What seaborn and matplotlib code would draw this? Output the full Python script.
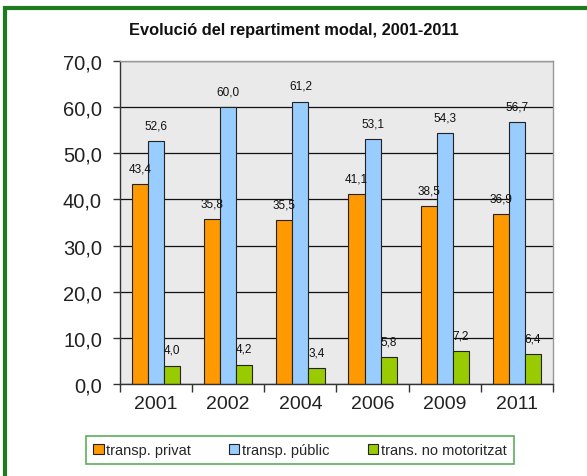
import matplotlib
matplotlib.use("Agg")
import matplotlib.pyplot as plt
import seaborn as sns
import pandas as pd
from matplotlib.patches import Rectangle, Patch

years = ["2001", "2002", "2004", "2006", "2009", "2011"]
series = ["transp. privat", "transp. públic", "trans. no motoritzat"]
privat = [43.4, 35.8, 35.5, 41.1, 38.5, 36.9]
public = [52.6, 60.0, 61.2, 53.1, 54.3, 56.7]
nomot = [4.0, 4.2, 3.4, 5.8, 7.2, 6.4]
colors = ["#FF9900", "#99CCFF", "#99CC00"]

rows = []
for s, vals in zip(series, [privat, public, nomot]):
    for y, v in zip(years, vals):
        rows.append({"any": y, "serie": s, "valor": v})
df = pd.DataFrame(rows)

sns.set_theme(style="white")
plt.rcParams['font.family'] = ['Liberation Sans', 'DejaVu Sans']

fig = plt.figure(figsize=(5.87, 4.77), dpi=100)
ax = fig.add_axes([120/587, 1-385/477, 433/587, 323/477])
sns.barplot(data=df, x="any", y="valor", hue="serie", order=years, hue_order=series,
            palette=colors, width=0.67, edgecolor="#222222", linewidth=0.8,
            saturation=1, ax=ax, legend=False, errorbar=None)

ax.set_facecolor("#EAEAEA")
ax.set_ylim(0, 70)
ax.set_xlim(-0.5, 5.5)
ax.set_yticks(range(0, 71, 10))
ax.set_yticklabels([f"{v},0" for v in range(0, 71, 10)], fontsize=14.5, color="#222222")
ax.yaxis.grid(True, color="#111111", linewidth=0.9)
ax.set_axisbelow(True)
ax.set_xlabel("")
ax.set_ylabel("")
ax.tick_params(axis="x", which="major", length=0, labelsize=14, pad=8, labelcolor="#222222")
ax.set_xticks([i - 0.5 for i in range(7)], minor=True)
ax.tick_params(axis="x", which="minor", length=6, width=1, color="#333333", direction="out", bottom=True)
ax.tick_params(axis="y", length=5, width=1, color="#333333", direction="out", left=True, pad=8)
for side in ["top", "right"]:
    ax.spines[side].set_color("#999999")
    ax.spines[side].set_linewidth(1)
for side in ["left", "bottom"]:
    ax.spines[side].set_color("#333333")
    ax.spines[side].set_linewidth(1)

for cont in ax.containers:
    labels = [f"{b.get_height():.1f}".replace(".", ",") for b in cont]
    ax.bar_label(cont, labels=labels, padding=7, fontsize=8.5, color="#111111")

fig.text(294/587, 1-30/477, "Evolució del repartiment modal, 2001-2011", ha="center", va="center",
         fontsize=11.8, fontweight="bold", color="#111111")

handles = [Patch(facecolor=c, edgecolor="#222222", linewidth=0.8) for c in colors]
leg = fig.legend(handles, series, loc="center", bbox_to_anchor=(300/587, 1-451/477), ncol=3,
                 fontsize=10.5, frameon=True, fancybox=False, handlelength=0.7, handleheight=0.7,
                 handletextpad=0.2, columnspacing=2.6, borderpad=0.5)
leg.get_frame().set_edgecolor("#339933")
leg.get_frame().set_linewidth(1.2)

fig.patches.append(Rectangle((5/587, -0.1), 1.2, 1-9/477 + 0.1, transform=fig.transFigure,
                             fill=False, edgecolor="#1E7B1E", linewidth=3, zorder=10))

fig.savefig("out.png", dpi=100)
